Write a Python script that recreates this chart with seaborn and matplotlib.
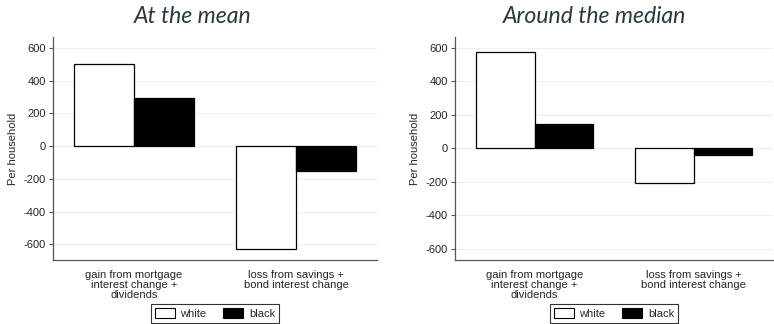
import numpy as np
import pandas as pd
import seaborn as sns
import matplotlib.pyplot as plt
from matplotlib.patches import Patch

categories = ['gain from mortgage\ninterest change +\ndividends',
              'loss from savings +\nbond interest change']
groups = ['white', 'black']

mean_white = [503, -630]
mean_black = [292, -150]
median_white = [576, -205]
median_black = [145, -42]

titles = ['At the mean', 'Around the median']
yticks = [-600, -400, -200, 0, 200, 400, 600]

sns.set_style("white")
plt.rcParams['font.family'] = ['Liberation Sans', 'DejaVu Sans']


def make_df(white_vals, black_vals):
    rows = []
    for cat, w, b in zip(categories, white_vals, black_vals):
        rows.append({'cat': cat, 'group': 'white', 'value': w})
        rows.append({'cat': cat, 'group': 'black', 'value': b})
    return pd.DataFrame(rows)


fig, axes = plt.subplots(1, 2, figsize=(7.74, 3.24), dpi=100)
fig.subplots_adjust(left=0.069, right=0.997, top=0.886, bottom=0.198)
pos = axes[0].get_position()
axes[0].set_position([53 / 774, pos.y0, 324 / 774, pos.height])
axes[1].set_position([455 / 774, pos.y0, 318 / 774, pos.height])

panels = [(mean_white, mean_black, (-695, 668), 0.432),
          (median_white, median_black, (-666, 664), 0.437)]

for ax, title, (w, b, ylim, title_x) in zip(axes, titles, panels):
    df = make_df(w, b)
    sns.barplot(data=df, x='cat', y='value', hue='group', hue_order=groups,
                palette={'white': 'white', 'black': 'black'},
                width=0.735, edgecolor='black', linewidth=0.9,
                ax=ax, legend=False)
    ax.set_xlim(-0.5, 1.5)
    ax.set_ylim(*ylim)
    ax.set_yticks(yticks)
    ax.set_yticklabels([str(t) for t in yticks])
    ax.yaxis.grid(True, color='#e9f1f2', linewidth=0.9)
    ax.set_axisbelow(True)
    for s in ['top', 'right']:
        ax.spines[s].set_visible(False)
    for s in ['left', 'bottom']:
        ax.spines[s].set_color('#555555')
        ax.spines[s].set_linewidth(0.9)
    ax.tick_params(axis='y', which='both', left=True, length=3, width=0.8,
                   color='#555555', labelsize=8, pad=2)
    ax.tick_params(axis='x', bottom=False, labelsize=8, pad=4)
    ax.set_xlabel('')
    ax.set_ylabel('Per household', fontsize=8, labelpad=4)
    ax.set_title(title, fontsize=16.6, style='italic', fontweight='normal',
                 color='#2a3840', family=['Lato', 'DejaVu Sans'], pad=10,
                 x=title_x)
    for lbl in ax.get_xticklabels():
        lbl.set_linespacing(1.0)

    p = ax.get_position()
    handles = [Patch(facecolor='white', edgecolor='black', linewidth=0.8, label='white'),
               Patch(facecolor='black', edgecolor='black', linewidth=0.8, label='black')]
    leg = fig.legend(handles=handles, loc='lower center',
                     bbox_to_anchor=(p.x0 + p.width * 0.5, 0.0),
                     bbox_transform=fig.transFigure,
                     ncol=2, fontsize=8, frameon=True, fancybox=False,
                     handlelength=1.8, handleheight=1.0, columnspacing=1.5,
                     borderpad=0.35, handletextpad=0.5, borderaxespad=0.1)
    leg.get_frame().set_edgecolor('black')
    leg.get_frame().set_linewidth(0.8)

plt.savefig('out.png', dpi=100)
